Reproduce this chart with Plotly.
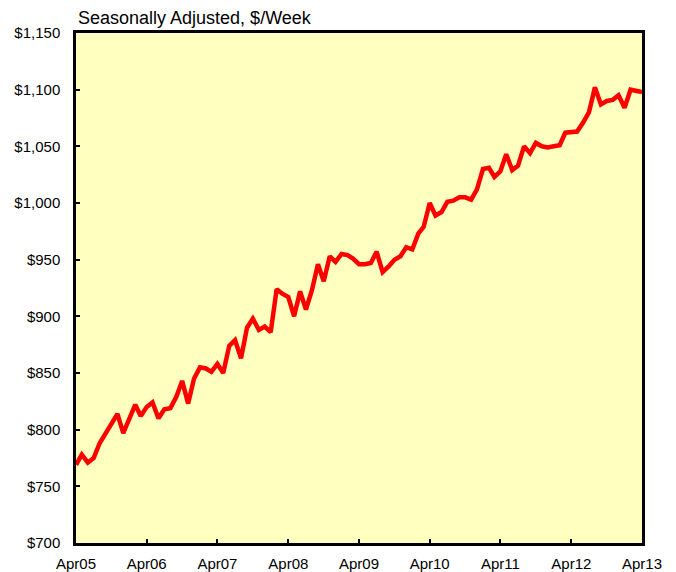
import pandas as pd
import plotly.graph_objects as go

# monthly, Apr 2005 .. Apr 2013
months = pd.date_range("2005-04-01", "2013-04-01", freq="MS")
earnings = [
    769, 778, 771, 775, 788, 797, 805, 814, 797, 810, 822, 812,
    820, 824, 810, 818, 819, 829, 843, 823, 845, 855, 854, 851,
    858, 850, 874, 879, 863, 890, 898, 888, 891, 886, 924, 920,
    917, 900, 922, 906, 923, 946, 931, 953, 948, 955, 954, 951,
    946, 946, 947, 957, 939, 944, 950, 953, 961, 959, 973, 979,
    1000, 989, 992, 1001, 1002, 1005, 1005, 1003, 1012, 1030, 1031, 1023,
    1028, 1043, 1029, 1033, 1050, 1044, 1053, 1050, 1049, 1050, 1051, 1062,
    1063, 1063, 1071, 1080, 1102, 1087, 1090, 1091, 1095, 1084, 1100, 1099,
    1098,
]
tick_dates = pd.date_range("2005-04-01", "2013-04-01", freq="12MS")
tick_labels = ["Apr05", "Apr06", "Apr07", "Apr08", "Apr09",
               "Apr10", "Apr11", "Apr12", "Apr13"]
title = "Seasonally Adjusted, $/Week"

fig = go.Figure()
fig.add_trace(go.Scatter(x=months, y=earnings, mode="lines",
                         line=dict(color="#ff0000", width=4.5),
                         hoverinfo="skip"))

# the page body adds an 8px margin, so the margins are shifted up/left by 8
fig.update_layout(
    width=676, height=572,
    margin=dict(l=68, r=42, t=25, b=37),
    paper_bgcolor="white",
    plot_bgcolor="#ffffc0",
    showlegend=False,
    font=dict(family="Liberation Sans, Arial", size=15, color="black"),
    annotations=[dict(text=title, xref="paper", yref="paper", x=0, y=1,
                      xanchor="left", yanchor="bottom", yshift=3,
                      showarrow=False, font=dict(size=18))],
)
fig.update_xaxes(
    range=[months[0], months[-1]],
    tickvals=tick_dates, ticktext=tick_labels,
    showgrid=False, zeroline=False,
    showline=True, linecolor="black", linewidth=2.5, mirror=True,
    ticks="inside", ticklen=4, tickwidth=2, tickcolor="black",
    ticklabelstandoff=5, automargin=False,
)
fig.update_yaxes(
    range=[700, 1150], dtick=50,
    tickprefix="$", tickformat=",",
    showgrid=False, zeroline=False,
    showline=True, linecolor="black", linewidth=2.5, mirror=True,
    ticks="inside", ticklen=4, tickwidth=2, tickcolor="black",
    ticklabelstandoff=10, automargin=False,
)

fig.write_html("out.html")
